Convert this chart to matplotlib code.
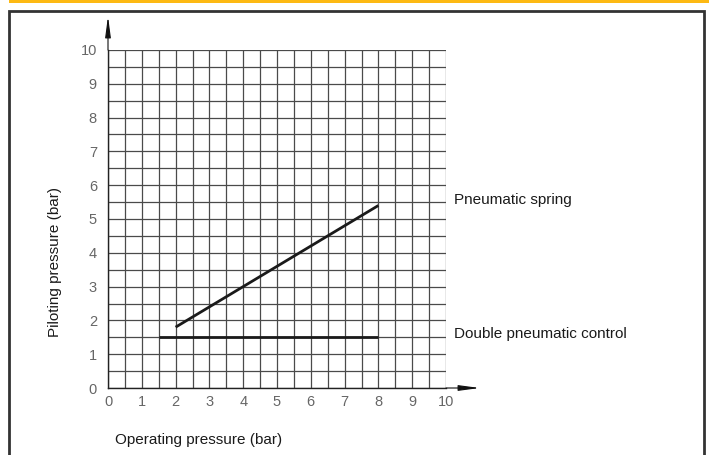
import numpy as np
import matplotlib.pyplot as plt
from matplotlib.patches import Rectangle

# data
spring_x = [2, 8]
spring_y = [1.8, 5.4]
double_x = [1.5, 8]
double_y = [1.5, 1.5]
ticks = list(range(0, 11))

plt.rcParams['font.family'] = ['Liberation Sans', 'DejaVu Sans']

fig = plt.figure(figsize=(7.09, 4.55), dpi=100)
ax = fig.add_axes([108/709, 67/455, 338/709, 338/455])

# frame and top bar
fig.patches.append(Rectangle((9/709, -0.1), 695/709, 0.1 + 444/455, transform=fig.transFigure,
                             fill=False, edgecolor='#333333', lw=2))
fig.patches.append(Rectangle((9/709, 452/455), 1, 0.1, transform=fig.transFigure,
                             facecolor='#FDB913', edgecolor='none'))

ax.set_xlim(0, 10)
ax.set_ylim(0, 10)
ax.set_xticks(ticks)
ax.set_yticks(ticks)
ax.set_xticks(np.arange(0.5, 10, 1), minor=True)
ax.set_yticks(np.arange(0.5, 10, 1), minor=True)
ax.grid(True, which='both', color='#4a4a4a', lw=0.9)
ax.tick_params(which='both', length=0, labelsize=10.5, labelcolor='#666666')
ax.tick_params(axis='x', pad=5)
ax.tick_params(axis='y', pad=8)
for s in ['top', 'right']:
    ax.spines[s].set_visible(False)
for s in ['left', 'bottom']:
    ax.spines[s].set_color('#222222')
    ax.spines[s].set_linewidth(1)
ax.set_axisbelow(True)

# axis arrows
astyle = '-|>,head_length=0.9,head_width=0.12'
ax.annotate('', xy=(0, 11.0), xytext=(0, 10), annotation_clip=False,
            arrowprops=dict(arrowstyle=astyle, color='#111111', lw=0.8, mutation_scale=14,
                            shrinkA=0, shrinkB=0))
ax.annotate('', xy=(11.0, 0), xytext=(10, 0), annotation_clip=False,
            arrowprops=dict(arrowstyle=astyle, color='#111111', lw=0.8, mutation_scale=14,
                            shrinkA=0, shrinkB=0))

ax.plot(spring_x, spring_y, color='#1a1a1a', lw=2, solid_capstyle='butt')
ax.plot(double_x, double_y, color='#1a1a1a', lw=2, solid_capstyle='butt')

ax.text(10.25, 5.55, 'Pneumatic spring', fontsize=11, va='center', ha='left', color='#1a1a1a')
ax.text(10.25, 1.6, 'Double pneumatic control', fontsize=11, va='center', ha='left', color='#1a1a1a')

fig.text(115/709, 1 - 440/455, 'Operating pressure (bar)', fontsize=11, va='center', ha='left', color='#1a1a1a')
fig.text(55/709, 1 - 262/455, 'Piloting pressure (bar)', fontsize=11, va='center', ha='center',
         rotation=90, color='#1a1a1a')

plt.savefig('out.png', dpi=100)
